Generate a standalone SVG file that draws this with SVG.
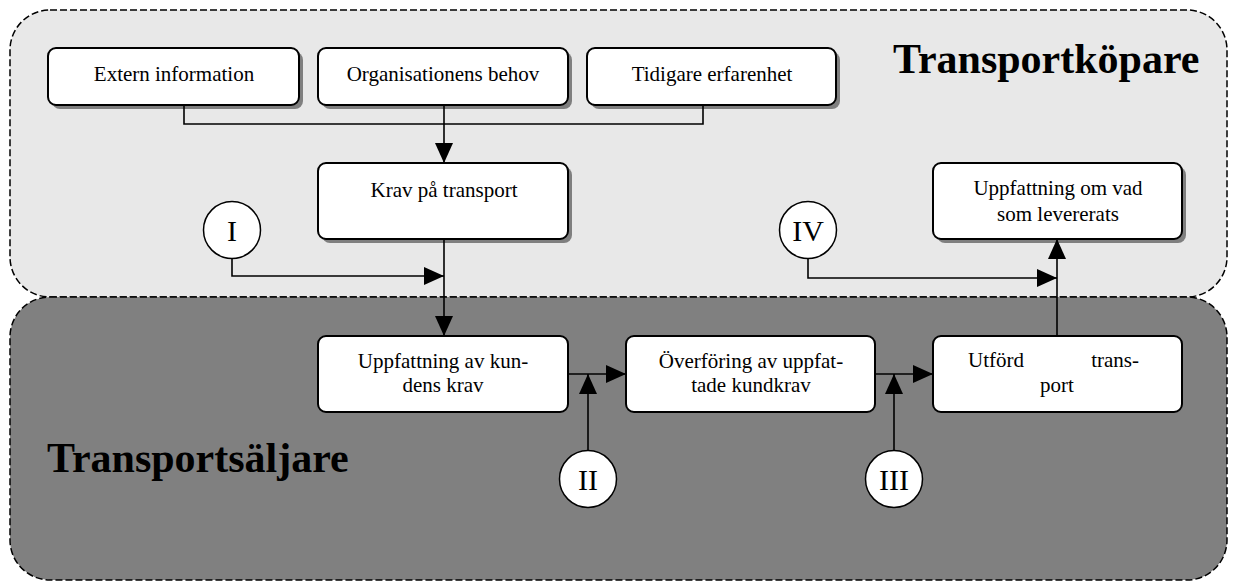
<svg xmlns="http://www.w3.org/2000/svg" width="1237" height="583" viewBox="0 0 1237 583">
<style>
.region{stroke:#000;stroke-width:1.5;stroke-dasharray:7 3}
.box{fill:#fff;stroke:#000;stroke-width:2}
.shadow{fill:#7f7f7f}
.circ{fill:#fff;stroke:#000;stroke-width:1.5}
.t{font-family:"Liberation Serif","Times New Roman",serif;font-size:21px;fill:#000}
.num{font-family:"Liberation Serif","Times New Roman",serif;font-size:30px;fill:#000;text-anchor:middle}
.title{font-family:"Liberation Serif","Times New Roman",serif;font-size:42px;font-weight:bold;fill:#000}
.c{text-anchor:middle}
.conn{fill:none;stroke:#000;stroke-width:1.6}
</style>
<defs>
<marker id="arr" markerUnits="userSpaceOnUse" markerWidth="20" markerHeight="18" refX="20" refY="9" orient="auto">
<path d="M0,0 L20,9 L0,18 z" fill="#000"/>
</marker>
</defs>
<rect width="1237" height="583" fill="#fff"/>
<g id="region-buyer">
<rect class="region" x="10" y="10" width="1217" height="287" rx="40" ry="40" fill="#e8e8e8"/>
<text class="title" x="893" y="73">Transportköpare</text>
</g>
<g id="region-seller">
<rect class="region" x="10" y="297" width="1217" height="283" rx="40" ry="40" fill="#808080"/>
<text class="title" x="47" y="472">Transportsäljare</text>
</g>
<g id="node-extern">
<rect class="shadow" x="52" y="52" width="251" height="57" rx="8"/>
<rect class="box" x="48" y="48" width="251" height="57" rx="8"/>
<text class="t c" x="174" y="81">Extern information</text>
</g>
<g id="node-org">
<rect class="shadow" x="322" y="52" width="250" height="57" rx="8"/>
<rect class="box" x="318" y="48" width="250" height="57" rx="8"/>
<text class="t c" x="443" y="81">Organisationens behov</text>
</g>
<g id="node-tidigare">
<rect class="shadow" x="591" y="52" width="249" height="57" rx="8"/>
<rect class="box" x="587" y="48" width="249" height="57" rx="8"/>
<text class="t c" x="712" y="81">Tidigare erfarenhet</text>
</g>
<g id="node-krav">
<rect class="shadow" x="322" y="167" width="250" height="76" rx="8"/>
<rect class="box" x="318" y="163" width="250" height="76" rx="8"/>
<text class="t c" x="444" y="197">Krav på transport</text>
</g>
<g id="node-uppfattning-om">
<rect class="shadow" x="937" y="167" width="249" height="76" rx="8"/>
<rect class="box" x="933" y="163" width="249" height="76" rx="8"/>
<text class="t c" x="1058" y="195">Uppfattning om vad</text>
<text class="t c" x="1058" y="221">som levererats</text>
</g>
<g id="node-uppfattning-av">
<rect class="box" x="318" y="336" width="250" height="76" rx="8"/>
<text class="t c" x="443" y="368">Uppfattning av kun-</text>
<text class="t c" x="443" y="392">dens krav</text>
</g>
<g id="node-overforing">
<rect class="box" x="626" y="336" width="249" height="76" rx="8"/>
<text class="t c" x="751" y="368">Överföring av uppfat-</text>
<text class="t c" x="751" y="392">tade kundkrav</text>
</g>
<g id="node-utford">
<rect class="box" x="933" y="336" width="249" height="76" rx="8"/>
<text class="t" x="968" y="367">Utförd</text>
<text class="t" x="1139" y="367" text-anchor="end">trans-</text>
<text class="t c" x="1057" y="392">port</text>
</g>
<g id="connectors">
<path class="conn" d="M184 105 V124 H703 V105"/>
<path class="conn" d="M444 105 V163" marker-end="url(#arr)"/>
<path class="conn" d="M444 239 V336" marker-end="url(#arr)"/>
<path class="conn" d="M232 258 V276 H444" marker-end="url(#arr)"/>
<path class="conn" d="M568 374 H626" marker-end="url(#arr)"/>
<path class="conn" d="M588 450 V374" marker-end="url(#arr)"/>
<path class="conn" d="M875 374 H933" marker-end="url(#arr)"/>
<path class="conn" d="M894 450 V374" marker-end="url(#arr)"/>
<path class="conn" d="M1057 336 V239" marker-end="url(#arr)"/>
<path class="conn" d="M808 258 V278 H1057" marker-end="url(#arr)"/>
</g>
<g id="circle-I">
<circle class="circ" cx="232" cy="230" r="28.5"/>
<text class="num" x="232" y="241">I</text>
</g>
<g id="circle-IV">
<circle class="circ" cx="808" cy="230" r="28.5"/>
<text class="num" x="808" y="241">IV</text>
</g>
<g id="circle-II">
<circle class="circ" cx="588" cy="479" r="28.5"/>
<text class="num" x="588" y="490">II</text>
</g>
<g id="circle-III">
<circle class="circ" cx="894" cy="479" r="28.5"/>
<text class="num" x="894" y="490">III</text>
</g>
</svg>
